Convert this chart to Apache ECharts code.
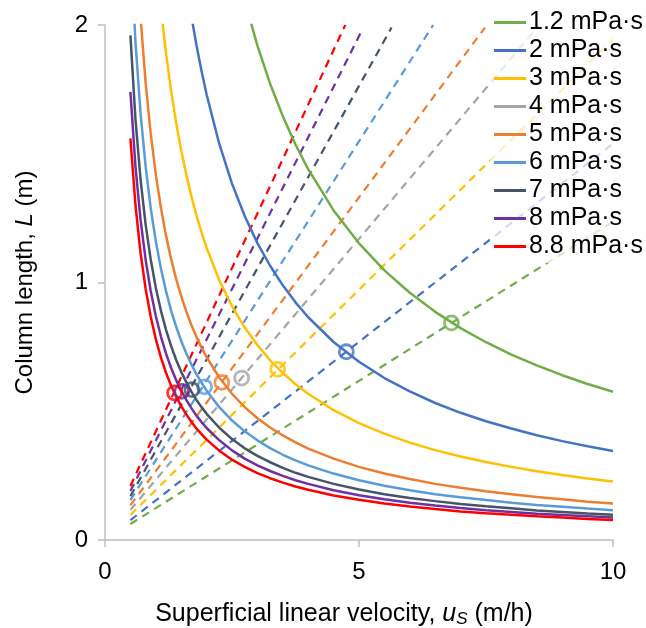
<!DOCTYPE html>
<html><head><meta charset="utf-8">
<script src="https://cdn.jsdelivr.net/npm/echarts@6/dist/echarts.min.js"></script>
<style>html,body{margin:0;padding:0;background:#fff}#c{width:646px;height:628px}</style>
</head><body><div id="c"></div>
<script>
// Viscosity series names and colours
const names = ['1.2 mPa·s','2 mPa·s','3 mPa·s','4 mPa·s','5 mPa·s','6 mPa·s','7 mPa·s','8 mPa·s','8.8 mPa·s'];
const colors = ['#70AD47','#4472C4','#FFC000','#A5A5A5','#ED7D31','#5B9BD5','#44546A','#7030A0','#FF0000'];

// Shared superficial velocity grid (m/h) for the solid curves
const uGrid = [0.5,0.6,0.7,0.8,0.9,1.0,1.1,1.2,1.3,1.4,1.5,1.6,1.7,1.8,1.9,2.0,2.25,2.5,2.75,3.0,3.25,3.5,3.75,4.0,4.5,5.0,5.5,6.0,6.5,7.0,7.5,8.0,8.5,9.0,9.5,10];
// Column length L (m) (null = off chart)
const curve12 = [null,null,null,null,null,null,null,null,null,null,null,null,null,null,null,null,null,null,
  2.095,1.92,1.772,1.646,1.536,1.44,1.28,1.152,1.047,0.96,0.886,0.823,0.768,0.72,0.678,0.64,0.606,0.576];
const curve2 = [null,null,null,null,null,null,null,null,null,null,null,null,
  2.035,1.922,1.821,1.73,1.538,1.384,1.258,1.153,1.065,0.989,0.923,0.865,0.769,0.692,0.629,0.577,0.532,0.494,0.461,0.433,0.407,0.384,0.364,0.346];
const curve3 = [null,null,null,null,null,null,
  2.064,1.892,1.746,1.621,1.513,1.419,1.335,1.261,1.195,1.135,1.009,0.908,0.825,0.757,0.698,0.649,0.605,0.568,0.504,0.454,0.413,0.378,0.349,0.324,0.303,0.284,0.267,0.252,0.239,0.227];
const curve4 = []; // the 4 mPa·s curve is not drawn in the reference
const curve5 = [null,null,
  2.029,1.775,1.578,1.42,1.291,1.183,1.092,1.014,0.947,0.888,0.835,0.789,0.747,0.71,0.631,0.568,0.516,0.473,0.437,0.406,0.379,0.355,0.316,0.284,0.258,0.237,0.218,0.203,0.189,0.178,0.167,0.158,0.149,0.142];
const curve6 = [2.32,1.933,1.657,1.45,1.289,1.16,1.055,0.967,0.892,0.829,0.773,0.725,0.682,0.644,0.611,0.58,0.516,0.464,0.422,0.387,0.357,0.331,0.309,0.29,0.258,0.232,0.211,0.193,0.178,0.166,0.155,0.145,0.136,0.129,0.122,0.116];
const curve7 = [1.96,1.633,1.4,1.225,1.089,0.98,0.891,0.817,0.754,0.7,0.653,0.613,0.576,0.544,0.516,0.49,0.436,0.392,0.356,0.327,0.302,0.28,0.261,0.245,0.218,0.196,0.178,0.163,0.151,0.14,0.131,0.123,0.115,0.109,0.103,0.098];
const curve8 = [1.74,1.45,1.243,1.088,0.967,0.87,0.791,0.725,0.669,0.621,0.58,0.544,0.512,0.483,0.458,0.435,0.387,0.348,0.316,0.29,0.268,0.249,0.232,0.218,0.193,0.174,0.158,0.145,0.134,0.124,0.116,0.109,0.102,0.097,0.092,0.087];
const curve88 = [1.56,1.3,1.114,0.975,0.867,0.78,0.709,0.65,0.6,0.557,0.52,0.488,0.459,0.433,0.411,0.39,0.347,0.312,0.284,0.26,0.24,0.223,0.208,0.195,0.173,0.156,0.142,0.13,0.12,0.111,0.104,0.098,0.092,0.087,0.082,0.078];
const curves = [curve12,curve2,curve3,curve4,curve5,curve6,curve7,curve8,curve88];

// Dashed operating lines: start and end points [u, L]
const dashStartU = [0.5,0.5,0.5,0.5,0.5,0.5,0.5,0.5,0.5];
const dashStartL = [0.062,0.077,0.097,0.117,0.135,0.155,0.17,0.19,0.21];
const dashEndU   = [10,10,10,8.55,7.48,6.46,5.64,5.06,4.73];
const dashEndL   = [1.236,1.539,1.944,2.0,1.99,2.0,1.99,1.98,2.0];

// Design points (circles)
const pointU = [6.82,4.75,3.40,2.69,2.30,1.96,1.71,1.51,1.37];
const pointL = [0.843,0.731,0.663,0.629,0.612,0.595,0.584,0.577,0.571];

const FONT = '"Liberation Sans", Arial, sans-serif';
const FS = 24;
const FT = 25;
const series = [];
names.forEach((n,i)=>{
  series.push({
    name: n+' op', type:'line', symbol:'none', silent:true, z:2,
    data: [[dashStartU[i],dashStartL[i]],[dashEndU[i],dashEndL[i]]],
    lineStyle:{color:colors[i], width:2.2, type:[8,6]}
  });
});
names.forEach((n,i)=>{
  const pts = [];
  curves[i].forEach((v,j)=>{ if(v!==null && v!==undefined) pts.push([uGrid[j], v]); });
  series.push({
    name: n, type:'line', symbol:'none', smooth:false, z:3,
    color: colors[i],
    data: pts,
    lineStyle:{color:colors[i], width:2.5}
  });
});
names.forEach((n,i)=>{
  series.push({
    name: n+' pt', type:'scatter', symbol:'circle', symbolSize:14, z:5,
    data: [[pointU[i], pointL[i]]],
    itemStyle:{color:'rgba(0,0,0,0)', borderColor:colors[i], borderWidth:2.8}
  });
});

const chart = echarts.init(document.getElementById('c'));
chart.setOption({
  animation:false,
  backgroundColor:'#fff',
  grid:{left:105, right:33, top:25, bottom:88, containLabel:false, outerBoundsMode:'none'},
  legend:{
    data: names, orient:'vertical', left:490, top:6, padding:[4,2,4,4],
    backgroundColor:'rgba(255,255,255,0.75)',
    icon:'rect', itemWidth:32, itemHeight:3, itemGap:3,
    textStyle:{fontFamily:FONT, fontSize:FT, color:'#000', padding:[0,0,0,-2]}
  },
  xAxis:{
    type:'value', min:0, max:10, interval:5,
    axisLine:{show:true, onZero:false, lineStyle:{color:'#BFBFBF', width:1.5}},
    axisTick:{show:true, length:7, lineStyle:{color:'#BFBFBF', width:1.5}},
    splitLine:{show:false},
    axisLabel:{fontFamily:FONT, fontSize:FS, color:'#000', margin:20},
    name:'{t|Superficial linear velocity, }{i|u}{sub|S}{t| (m/h)}',
    nameLocation:'middle', nameGap:60,
    nameTextStyle:{fontFamily:FONT, fontSize:FT, color:'#000', padding:[0,30,0,0],
      rich:{
        t:{fontFamily:FONT, fontSize:FT, color:'#000', lineHeight:28},
        i:{fontFamily:FONT, fontSize:FT, color:'#000', fontStyle:'italic', lineHeight:28},
        sub:{fontFamily:FONT, fontSize:17, color:'#000', fontStyle:'italic', lineHeight:12, verticalAlign:'bottom'}
      }}
  },
  yAxis:{
    type:'value', min:0, max:2, interval:1,
    axisLine:{show:true, onZero:false, lineStyle:{color:'#BFBFBF', width:1.5}},
    axisTick:{show:true, length:7, lineStyle:{color:'#BFBFBF', width:1.5}},
    splitLine:{show:false},
    axisLabel:{fontFamily:FONT, fontSize:FS, color:'#000', margin:17},
    name:'{t|Column length, }{i|L}{t| (m)}',
    nameLocation:'middle', nameGap:68,
    nameTextStyle:{fontFamily:FONT, fontSize:FS, color:'#000',
      rich:{
        t:{fontFamily:FONT, fontSize:FS, color:'#000'},
        i:{fontFamily:FONT, fontSize:FS, color:'#000', fontStyle:'italic'}
      }}
  },
  series: series
});
</script>
</body></html>
